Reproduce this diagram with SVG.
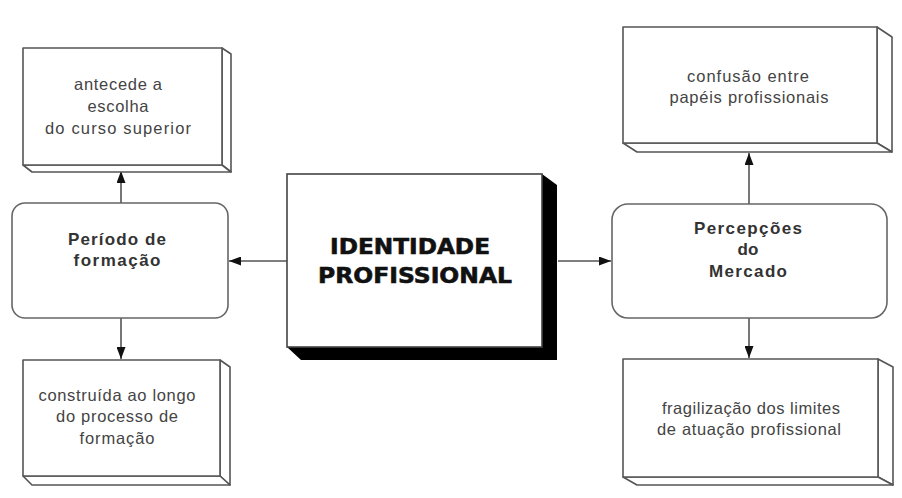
<svg xmlns="http://www.w3.org/2000/svg" width="902" height="498" viewBox="0 0 902 498">
<defs>
<style>
.face{fill:#fff;stroke:#555;stroke-width:1.6;stroke-linejoin:round}
.rb{fill:#fff;stroke:#666;stroke-width:1.6}
.t{font-family:"Liberation Sans",Arial,sans-serif;font-size:16.5px;fill:#444;text-anchor:middle}
.b{font-family:"Liberation Sans",Arial,sans-serif;font-size:17px;font-weight:bold;fill:#333;text-anchor:middle}
.id{font-family:"DejaVu Sans",sans-serif;font-size:22px;font-weight:bold;fill:#111;text-anchor:middle;stroke:#111;stroke-width:0.6}
.ln{stroke:#555;stroke-width:1.6;fill:none}
</style>
<marker id="ah" viewBox="0 0 12 9" refX="12" refY="4.5" markerWidth="12" markerHeight="9" markerUnits="userSpaceOnUse" orient="auto">
<path d="M0,0 L12,4.5 L0,9 z" fill="#111"/>
</marker>
</defs>
<rect width="902" height="498" fill="#fff"/>

<g id="connectors">
<line class="ln" x1="288" y1="261" x2="229" y2="261" marker-end="url(#ah)"/>
<line class="ln" x1="558" y1="261" x2="611" y2="261" marker-end="url(#ah)"/>
<line class="ln" x1="121" y1="203" x2="121" y2="171" marker-end="url(#ah)"/>
<line class="ln" x1="121" y1="318" x2="121" y2="359" marker-end="url(#ah)"/>
<line class="ln" x1="749" y1="204" x2="749" y2="153" marker-end="url(#ah)"/>
<line class="ln" x1="749" y1="318" x2="749" y2="358" marker-end="url(#ah)"/>
</g>

<g id="antecede">
<polygon class="face" points="222,48 231,54 231,172 222,165"/>
<polygon class="face" points="23,165 32,172 231,172 222,165"/>
<rect class="face" x="23" y="48" width="199" height="117"/>
<text class="t" x="118" y="90" textLength="88" lengthAdjust="spacing">antecede a</text>
<text class="t" x="118" y="112" textLength="61" lengthAdjust="spacing">escolha</text>
<text class="t" x="118" y="134" textLength="146" lengthAdjust="spacing">do curso superior</text>
</g>

<g id="periodo">
<rect class="rb" x="12" y="203" width="216" height="115" rx="13"/>
<text class="b" x="117" y="245" textLength="98" lengthAdjust="spacing">Período de</text>
<text class="b" x="117" y="266" textLength="87" lengthAdjust="spacing">formação</text>
</g>

<g id="construida">
<polygon class="face" points="220,360 230,367 230,485 220,476"/>
<polygon class="face" points="23,476 32,485 230,485 220,476"/>
<rect class="face" x="23" y="360" width="197" height="116"/>
<text class="t" x="117" y="401" textLength="157" lengthAdjust="spacing">construída ao longo</text>
<text class="t" x="117" y="422" textLength="122" lengthAdjust="spacing">do processo de</text>
<text class="t" x="117" y="444" textLength="75" lengthAdjust="spacing">formação</text>
</g>

<g id="identidade">
<polygon points="542,174 557,185 557,360 301,360 287,347 542,347" fill="#000"/>
<rect x="287" y="174" width="255" height="173" fill="#fff" stroke="#444" stroke-width="1.6"/>
<text class="id" x="410" y="254" textLength="160" lengthAdjust="spacingAndGlyphs">IDENTIDADE</text>
<text class="id" x="415" y="283" textLength="194" lengthAdjust="spacingAndGlyphs">PROFISSIONAL</text>
</g>

<g id="confusao">
<polygon class="face" points="877,27 892,37 892,152 877,143"/>
<polygon class="face" points="623,143 637,152 892,152 877,143"/>
<rect class="face" x="623" y="27" width="254" height="116"/>
<text class="t" x="748" y="82" textLength="122" lengthAdjust="spacing">confusão entre</text>
<text class="t" x="749" y="103" textLength="159" lengthAdjust="spacing">papéis profissionais</text>
</g>

<g id="percepcoes">
<rect class="rb" x="612" y="204" width="275" height="114" rx="16"/>
<text class="b" x="748" y="234" textLength="108" lengthAdjust="spacing">Percepções</text>
<text class="b" x="748" y="255">do</text>
<text class="b" x="748" y="277" textLength="78" lengthAdjust="spacing">Mercado</text>
</g>

<g id="fragilizacao">
<polygon class="face" points="878,359 893,367 893,485 878,477"/>
<polygon class="face" points="623,477 637,485 893,485 878,477"/>
<rect class="face" x="623" y="359" width="255" height="118"/>
<text class="t" x="751" y="414" textLength="178" lengthAdjust="spacing">fragilização dos limites</text>
<text class="t" x="749" y="435" textLength="184" lengthAdjust="spacing">de atuação profissional</text>
</g>
</svg>
